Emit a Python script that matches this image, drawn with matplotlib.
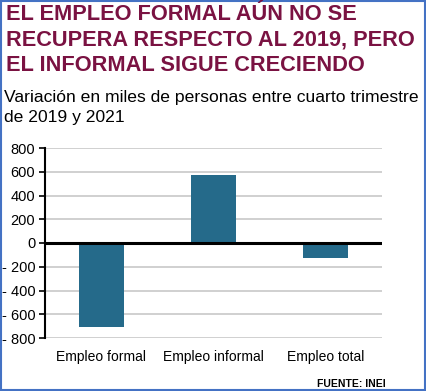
import matplotlib.pyplot as plt
from matplotlib.patches import Rectangle

categorias = ['Empleo formal', 'Empleo informal', 'Empleo total']
variacion = [-705, 572, -125]
yticks = [800, 600, 400, 200, 0, -200, -400, -600, -800]
ylabels = ['800', '600', '400', '200', '0', '- 200', '- 400', '- 600', '- 800']

plt.rcParams['font.family'] = ['Liberation Sans', 'DejaVu Sans']

fig = plt.figure(figsize=(4.26, 3.91), dpi=100)
ax = fig.add_axes([45 / 426, 1 - 338 / 391, 337 / 426, 190 / 391])

ax.bar(range(len(categorias)), variacion, width=0.4, color='#256A8A', zorder=3)
ax.set_xlim(-0.5, 2.5)
ax.set_ylim(-800, 800)
ax.set_yticks(yticks)
ax.set_yticklabels(ylabels, fontsize=10.5)
ax.set_xticks(range(len(categorias)))
ax.set_xticklabels(categorias, fontsize=10)
ax.tick_params(axis='x', length=0, pad=9)
ax.tick_params(axis='y', length=4, width=1.2, direction='out', pad=3)
ax.grid(axis='y', color='#C8C8C8', linewidth=1.2, zorder=0)
ax.axhline(0, color='black', linewidth=2.2, zorder=4)
for s in ['top', 'right', 'bottom']:
    ax.spines[s].set_visible(False)
ax.spines['left'].set_linewidth(1.5)
ax.spines['left'].set_zorder(5)

fig.text(6 / 426, 1 - 4 / 391,
         'EL EMPLEO FORMAL AÚN NO SE\nRECUPERA RESPECTO AL 2019, PERO\nEL INFORMAL SIGUE CRECIENDO',
         fontsize=15.7, fontweight='bold', color='#7A1242', va='top', ha='left', linespacing=1.27)
fig.text(4 / 426, 1 - 90 / 391,
         'Variación en miles de personas entre cuarto trimestre\nde 2019 y 2021',
         fontsize=12.6, color='black', va='top', ha='left', linespacing=1.45)
fig.text(386 / 426, 1 - 384 / 391, 'FUENTE: INEI', fontsize=7.5, fontweight='bold',
         ha='right', va='center')

fig.patches.append(Rectangle((0.002, 0.003), 0.995, 0.994, transform=fig.transFigure,
                             fill=False, edgecolor='#4472C4', linewidth=1.5))

fig.savefig('out.png', dpi=100)
